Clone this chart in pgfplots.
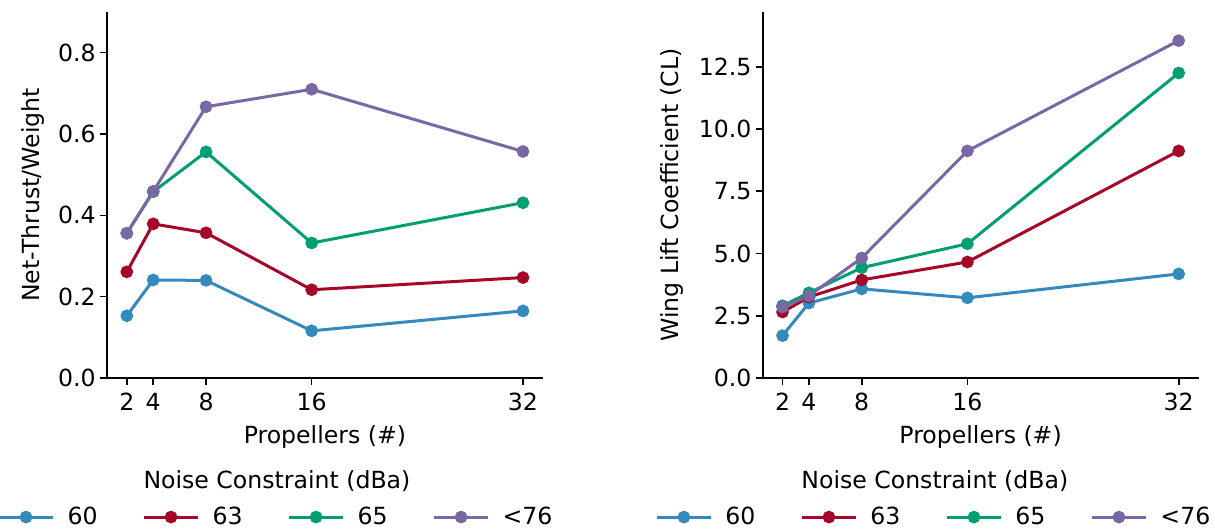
\documentclass[border=0pt]{standalone}
\usepackage{fontspec}
\setmainfont{DejaVu Sans}
\usepackage{pgfplots}
\pgfplotsset{compat=1.18}
\definecolor{cA}{HTML}{348ABD}
\definecolor{cB}{HTML}{A60628}
\definecolor{cC}{HTML}{009E73}
\definecolor{cD}{HTML}{7A68A6}
\pgfplotsset{
  myax/.style={
    scale only axis,
    width=217.9pt, height=183pt,
    axis lines*=left,
    axis line style={line width=0.8pt},
    tick align=outside,
    major tick length=3.5pt,
    every tick/.style={black, line width=0.8pt},
    xtick={2,4,8,16,32},
    xmin=0.5, xmax=33.5, ymin=0,
    /pgf/number format/assume math mode=true,
    font=\fontsize{11.8}{14}\selectfont,
    yticklabel style={xshift=2pt,/pgf/number format/fixed,/pgf/number format/fixed zerofill,/pgf/number format/precision=1},
    every axis x label/.style={at={(axis description cs:0.5,0)},anchor=center,yshift=-29.5pt},
    xlabel={Propellers (\#)},
    legend columns=4,
    legend style={draw=none, fill=none, font=\fontsize{11.8}{14}\selectfont,
      /tikz/every even column/.append style={column sep=20.5pt},
      /tikz/every odd column/.append style={column sep=4.5pt}},
    legend image code/.code={\draw[mark repeat=2,mark phase=2,#1] plot coordinates {(0pt,0pt) (13.5pt,0pt) (27pt,0pt)};},
    every axis plot/.append style={line width=1.5pt, mark=*, mark size=2.4pt, mark options={solid}},
    clip=false,
  }
}
\begin{document}
\fontsize{11.8}{14}\selectfont
\begin{tikzpicture}
\useasboundingbox (0,0) rectangle (607.5pt,264.5pt);
\begin{axis}[myax, at={(53.5pt,75.5pt)}, anchor=south west,
  ymax=0.9, ytick={0,0.2,0.4,0.6,0.8},
  every axis y label/.style={at={([xshift=-37pt]axis description cs:0,0.5)},rotate=90,anchor=center},
  ylabel={Net-Thrust/Weight},
  legend style={at={(axis description cs:0.39,-0.38)}, anchor=center}]
\addplot[color=cA] coordinates {(2,0.153) (4,0.241) (8,0.240) (16,0.116) (32,0.165)};
\addplot[color=cB] coordinates {(2,0.261) (4,0.379) (8,0.357) (16,0.217) (32,0.247)};
\addplot[color=cC] coordinates {(2,0.356) (4,0.458) (8,0.556) (16,0.332) (32,0.431)};
\addplot[color=cD] coordinates {(2,0.356) (4,0.459) (8,0.667) (16,0.710) (32,0.557)};
\legend{60,63,65,<76}
\node at (axis description cs:0.39,-0.281) {Noise Constraint (dBa)};
\end{axis}
\begin{axis}[myax, at={(381.35pt,75.5pt)}, anchor=south west,
  ymax=14.7, ytick={0,2.5,5,7.5,10,12.5},
  every axis y label/.style={at={([xshift=-45.3pt]axis description cs:0,0.5)},rotate=90,anchor=center},
  ylabel={Wing Lift Coefficient (CL)},
  legend style={at={(axis description cs:0.395,-0.38)}, anchor=center}]
\addplot[color=cA] coordinates {(2,1.70) (4,3.01) (8,3.58) (16,3.22) (32,4.18)};
\addplot[color=cB] coordinates {(2,2.65) (4,3.25) (8,3.94) (16,4.66) (32,9.12)};
\addplot[color=cC] coordinates {(2,2.90) (4,3.42) (8,4.43) (16,5.39) (32,12.25)};
\addplot[color=cD] coordinates {(2,2.85) (4,3.30) (8,4.82) (16,9.12) (32,13.55)};
\legend{60,63,65,<76}
\node at (axis description cs:0.395,-0.281) {Noise Constraint (dBa)};
\end{axis}
\end{tikzpicture}
\end{document}
